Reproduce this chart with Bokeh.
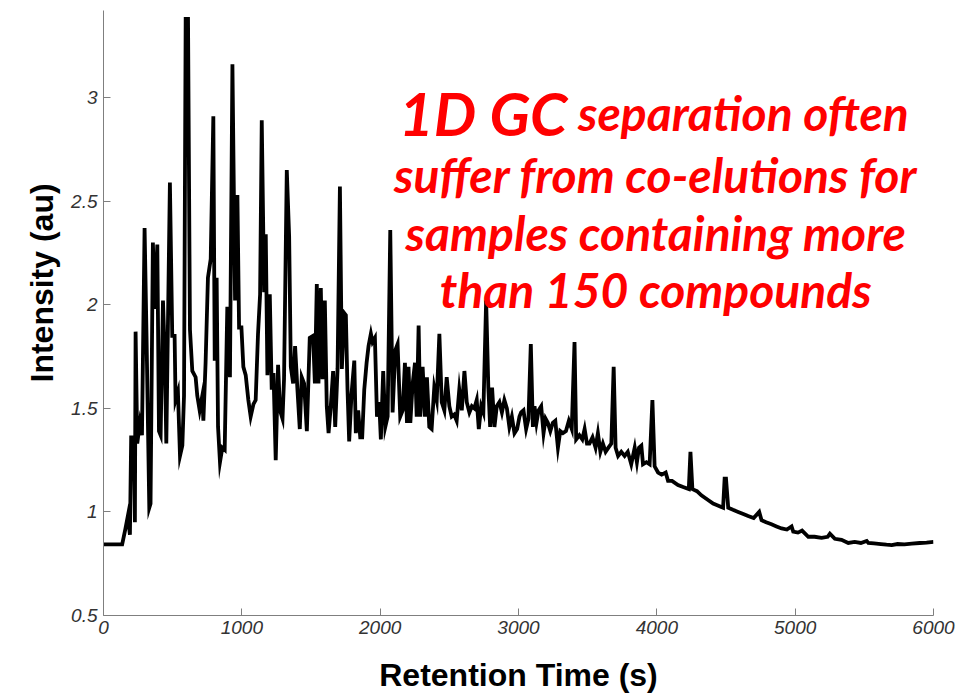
from bokeh.plotting import figure
from bokeh.models import Range1d, FixedTicker, CustomJSTickFormatter, Label, ColumnDataSource, Title
from bokeh.embed import file_html
from bokeh.resources import INLINE

# Retention time (s) and detector intensity (au)
time_s = [
    0, 135, 159, 176, 191, 200, 220, 227, 232, 244, 263, 278, 297, 311, 331, 340,
    357, 372, 389, 401, 413, 430, 444, 454, 480, 497, 514, 521, 538, 553, 570, 582,
    594, 611, 625, 642, 666, 678, 695, 714, 722, 738, 755, 775, 794, 804, 818, 828,
    842, 859, 876, 895, 914, 932, 951, 968, 980, 997, 1011, 1028, 1047, 1064, 1084,
    1100, 1117, 1132, 1144, 1161, 1173, 1185, 1202, 1216, 1229, 1245, 1262, 1276,
    1294, 1305, 1325, 1342, 1354, 1371, 1385, 1402, 1419, 1433, 1450, 1470, 1491,
    1515, 1528, 1542, 1554, 1571, 1583, 1600, 1614, 1627, 1643, 1660, 1675, 1692,
    1709, 1723, 1740, 1752, 1764, 1776, 1793, 1813, 1824, 1841, 1856, 1870, 1885,
    1902, 1916, 1933, 1945, 1962, 1977, 1993, 2005, 2022, 2037, 2054, 2073, 2090,
    2109, 2126, 2145, 2163, 2179, 2194, 2205, 2218, 2235, 2252, 2264, 2278, 2290,
    2307, 2324, 2338, 2355, 2372, 2391, 2409, 2428, 2445, 2464, 2481, 2500, 2517,
    2535, 2553, 2572, 2590, 2609, 2626, 2645, 2663, 2681, 2698, 2713, 2730, 2746,
    2766, 2782, 2795, 2809, 2826, 2843, 2862, 2880, 2898, 2916, 2934, 2952, 2971,
    2990, 3007, 3019, 3036, 3055, 3072, 3089, 3104, 3116, 3130, 3145, 3164, 3181,
    3196, 3212, 3230, 3248, 3266, 3285, 3302, 3321, 3343, 3364, 3385, 3405, 3417,
    3440, 3461, 3478, 3495, 3513, 3535, 3557, 3574, 3592, 3610, 3630, 3650, 3671,
    3688, 3702, 3720, 3743, 3767, 3790, 3815, 3840, 3856, 3871, 3888, 3900, 3925,
    3948, 3968, 3984, 4009, 4035, 4064, 4081, 4110, 4153, 4190, 4231, 4243, 4257,
    4290, 4322, 4365, 4407, 4445, 4479, 4490, 4500, 4516, 4550, 4588, 4625, 4660,
    4700, 4740, 4757, 4790, 4829, 4865, 4902, 4940, 4974, 4986, 5020, 5050, 5095,
    5140, 5191, 5235, 5251, 5287, 5335, 5384, 5430, 5475, 5517, 5529, 5570, 5620,
    5660, 5698, 5740, 5790, 5843, 5900, 5950, 6000,
]
intensity_au = [
    0.843, 0.843, 0.92, 0.98, 0.89, 1.36, 1.36, 0.95, 1.87, 1.33, 1.43, 1.37, 2.37, 1.85, 1.02, 1.04,
    2.30, 1.98, 2.29, 1.39, 1.37, 2.02, 1.73, 1.33, 2.59, 1.85, 1.85, 1.54, 1.58, 1.27, 1.32, 1.56,
    3.38, 3.38, 1.88, 1.68, 1.65, 1.56, 1.49, 1.56, 1.44, 1.72, 2.13, 2.22, 2.91, 1.73, 2.13, 1.41,
    1.24, 1.31, 1.30, 1.99, 1.65, 3.16, 2.02, 2.53, 1.89, 1.89, 1.70, 1.66, 1.54, 1.46, 1.52,
    1.54, 1.86, 2.05, 2.89, 2.06, 2.34, 1.66, 2.05, 1.59, 1.67, 1.25, 1.71, 1.49,
    1.45, 1.64, 2.65, 2.33, 1.70, 1.62, 1.80, 1.59, 1.40, 1.65, 1.62, 1.39, 1.84,
    1.85, 1.62, 2.10, 1.62, 2.08, 1.64, 2.02, 1.51, 1.38, 1.51, 1.68, 1.41, 1.69,
    2.57, 1.69, 1.96, 1.95, 1.59, 1.34, 1.57, 1.73, 1.38, 1.49, 1.36, 1.36, 1.59,
    1.72, 1.80, 1.86, 1.82, 1.84, 1.46, 1.53, 1.35, 1.68, 1.41, 1.46, 2.36, 1.48,
    1.78, 1.81, 1.46, 1.49, 1.72, 1.43, 1.70, 1.43, 1.62, 1.72, 1.46, 1.90, 1.46,
    1.70, 1.46, 1.65, 1.41, 1.40, 1.60, 1.54, 1.86, 1.53, 1.49, 1.65, 1.51, 1.46,
    1.47, 1.44, 1.59, 1.49, 1.68, 1.53, 1.48, 1.51, 1.50, 1.54, 1.40, 1.51, 1.48,
    2.02, 1.60, 1.41, 1.60, 1.41, 1.51, 1.53, 1.48, 1.54, 1.50, 1.41, 1.46, 1.38,
    1.40, 1.46, 1.48, 1.49, 1.40, 1.45, 1.81, 1.41, 1.51, 1.43, 1.49, 1.51, 1.38,
    1.45, 1.43, 1.39, 1.43, 1.44, 1.31, 1.39, 1.38, 1.39, 1.44, 1.40, 1.82, 1.35,
    1.37, 1.35, 1.40, 1.33, 1.33, 1.36, 1.31, 1.38, 1.29, 1.33, 1.29, 1.31, 1.33,
    1.70, 1.31, 1.27, 1.29, 1.27, 1.29, 1.23, 1.31, 1.24, 1.31, 1.32, 1.23, 1.24,
    1.23, 1.54, 1.22, 1.19, 1.18, 1.19, 1.15, 1.15, 1.13, 1.12, 1.11, 1.29, 1.11,
    1.10, 1.08, 1.06, 1.04, 1.03, 1.02, 1.16, 1.16, 1.02, 1.01, 1.00, 0.99, 0.98,
    0.97, 1.00, 0.96, 0.95, 0.94, 0.93, 0.92, 0.915, 0.93, 0.905, 0.90, 0.91, 0.88,
    0.88, 0.875, 0.88, 0.895, 0.87, 0.865, 0.85, 0.855, 0.85, 0.86, 0.85, 0.848, 0.845,
    0.842, 0.84, 0.845, 0.843, 0.847, 0.85, 0.852, 0.855,
]

x_ticks = [0, 1000, 2000, 3000, 4000, 5000, 6000]
y_ticks = [0.5, 1, 1.5, 2, 2.5, 3]

x_title = "Retention Time (s)"
y_title = "Intensity (au)"
note_big = "1D GC"
note_lines = ["separation often", "suffer from co-elutions for",
              "samples containing more", "than 150 compounds"]

p = figure(width=960, height=695,
           x_range=Range1d(0, 6000), y_range=Range1d(0.5, 3.42),
           output_backend="svg", toolbar_location=None,
           min_border_left=103, min_border_right=27,
           min_border_top=10, min_border_bottom=79)
p.outline_line_color = None
p.grid.visible = False
p.background_fill_color = "white"
p.border_fill_color = "white"

src = ColumnDataSource(dict(t=time_s, i=intensity_au))
p.line("t", "i", source=src, line_color="black", line_width=3.8, line_join="miter")

fmt = CustomJSTickFormatter(code="return String(tick);")
for ax in (p.xaxis[0], p.yaxis[0]):
    ax.axis_line_color = "#7f7f7f"
    ax.major_tick_line_color = "#7f7f7f"
    ax.major_tick_in = 7
    ax.major_tick_out = 0
    ax.minor_tick_line_color = None
    ax.major_label_text_font = "Liberation Sans"
    ax.major_label_text_font_style = "italic"
    ax.major_label_text_font_size = "19px"
    ax.major_label_text_color = "#333333"
    ax.formatter = fmt

p.xaxis.ticker = FixedTicker(ticks=x_ticks)
p.yaxis.ticker = FixedTicker(ticks=y_ticks)
p.xaxis.axis_label = x_title
p.xaxis.axis_label_text_font = "Liberation Sans"
p.xaxis.axis_label_text_font_style = "bold"
p.xaxis.axis_label_text_font_size = "32px"
p.xaxis.axis_label_text_color = "black"
p.xaxis.major_label_standoff = 5
p.xaxis.axis_label_standoff = 20
p.yaxis.major_label_standoff = 6

# y-axis title as a left-side title (sits above the frame centre in the original)
p.add_layout(Title(text=y_title, align="left", offset=233, standoff=18,
                   text_font="Liberation Sans", text_font_style="bold",
                   text_font_size="32px", text_color="black"), "left")

common = dict(text_font="Lato", text_font_style="bold italic", text_color="#ff0000",
              text_baseline="alphabetic")
p.add_layout(Label(x=2136, y=2.926, text=note_big, text_font_size="60px",
                   text_align="left", **common))
p.add_layout(Label(x=3430, y=2.926, text=note_lines[0], text_font_size="48px",
                   text_align="left", **common))
for txt, yy in zip(note_lines[1:], [2.63, 2.35, 2.075]):
    p.add_layout(Label(x=3992, y=yy, text=txt, text_font_size="48px",
                       text_align="center", **common))

open("out.html", "w").write(file_html(p, INLINE))
